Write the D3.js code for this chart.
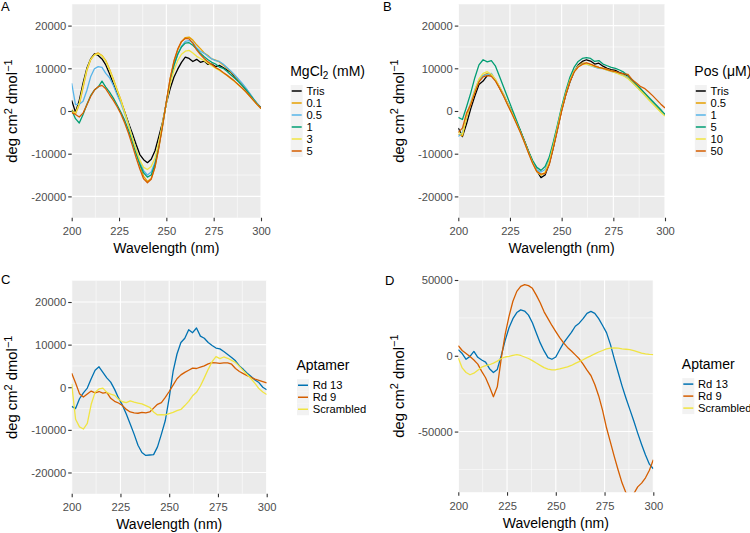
<!DOCTYPE html>
<html><head><meta charset="utf-8">
<script src="https://cdn.jsdelivr.net/npm/d3@7"></script>
<style>
body{margin:0;background:#fff}
svg{display:block}
text{font-family:"Liberation Sans",Arial,Helvetica,sans-serif}
</style>
</head><body>
<svg id="chart" width="750" height="533"></svg>
<script>
// ---------------- DATA ----------------
const wavelength = [200,202,204,206,208,210,212,214,216,218,220,222,224,226,228,230,232,234,236,238,240,242,244,246,248,250,252,254,256,258,260,262,264,266,268,270,272,274,276,278,280,282,284,286,288,290,292,294,296,298,300];
const xTicks = [200,225,250,275,300];
const xMinorTicks = [212.5,237.5,262.5,287.5];
const yTicksSmall = [-20000,-10000,0,10000,20000];
const yMinorSmall = [-15000,-5000,5000,15000];
const yTicksLarge = [-50000,0,50000];
const yMinorLarge = [-75000,-25000,25000];

// Panel A: MgCl2 (mM)
const mgLabels = ["Tris","0.1","0.5","1","3","5"];
const mgTris = [2500,-300,2500,6500,10000,12200,13400,13000,12200,10800,8700,6400,4200,2200,-200,-2800,-5200,-7800,-10200,-11400,-12100,-11300,-9300,-6000,-2600,1800,5200,7900,9800,11400,12600,12300,11600,12100,11400,11700,10900,11000,10400,10700,10200,9600,9100,8000,7100,6100,5000,3800,2700,1700,800];
const mg01 = [300,-700,1500,5500,9500,12000,13200,13600,13000,11800,9800,7500,5000,2600,-200,-3200,-6300,-9500,-12600,-15300,-16500,-15800,-13000,-8500,-3500,2000,7500,11500,14300,16200,17200,17300,16600,15500,14600,13600,13000,12200,11900,11500,10800,10000,9200,8300,7300,6200,5200,4000,2800,1600,600];
const mg05 = [6500,1500,1600,2300,4800,8000,9900,10400,10200,8800,7800,6000,3800,1800,-700,-3200,-6000,-9000,-11800,-14000,-15000,-14300,-12000,-8000,-3000,2000,6800,10500,13200,15200,16300,16500,16000,14800,14000,13500,12800,12200,11800,11600,11000,10200,9400,8500,7500,6500,5400,4200,2900,1700,600];
const mg1 = [200,-1800,-2800,-800,1500,3600,4900,5600,7000,5600,4400,3000,1400,-300,-2200,-4500,-7200,-10000,-12500,-14500,-15500,-15000,-12500,-8200,-3200,2000,6900,10700,13300,15000,15900,16000,15400,14500,13500,12700,12000,11400,11000,10300,10000,9300,8500,7700,6900,6000,5000,3900,2800,1600,600];
const mg3 = [-200,-500,1800,5800,9700,12100,13100,13400,12900,11600,9600,7300,4800,2400,-400,-3300,-6200,-9000,-11500,-13200,-13700,-13000,-11000,-7300,-2800,1800,6300,9500,11800,13300,14000,14200,13600,12800,12300,11800,11200,10600,10000,9500,8900,8300,7600,6900,6100,5300,4500,3500,2500,1500,600];
const mg5 = [-400,-800,-1400,-500,1400,3400,4900,5700,6000,5200,3800,2500,1000,-700,-2800,-5200,-8000,-10900,-13600,-15900,-16800,-16000,-13200,-8700,-3500,2200,7600,11700,14500,16300,17000,16900,15900,14300,13200,12300,11500,10900,10200,9700,9000,8400,7700,7000,6200,5400,4500,3500,2500,1500,600];

// Panel B: Pos (µM)
const posLabels = ["Tris","0.5","1","5","10","50"];
const posTris = [-4000,-6000,-3000,500,3500,6200,7000,8300,8600,7200,5400,3600,1500,-200,-2500,-4600,-7000,-9500,-12000,-14000,-15600,-15000,-12300,-8500,-4200,200,3800,6800,9200,10800,11600,12000,11700,11000,11200,10500,10000,9700,9500,9000,8700,8300,7200,6100,5300,4200,3000,2000,1000,0,-900];
const pos05 = [-5500,-5800,-1500,1500,4500,7000,8300,8800,8300,7300,5600,3800,1700,-300,-2500,-4700,-7100,-9600,-12000,-14000,-15000,-14500,-12000,-8300,-4000,300,4000,7000,9300,10600,11200,11200,10800,10600,10200,10000,9800,9400,9200,8800,8400,7800,6900,6000,5000,4000,3000,1900,900,-100,-1000];
const pos1 = [-6000,-5000,-1000,2000,5000,7300,8300,8500,8800,7200,5500,3700,1600,-400,-2600,-4800,-7200,-9700,-12000,-13800,-14300,-13700,-11500,-7800,-3600,700,4300,7300,9400,10500,11000,11000,10600,10300,10000,9900,9600,9300,9000,8700,8300,7700,6800,5800,4800,3800,2800,1800,800,-200,-1000];
const pos5 = [-1500,-2000,1000,4200,7800,10800,12000,11500,11800,10500,8000,5500,3000,500,-2000,-4500,-7000,-9500,-11600,-13200,-13900,-13000,-10800,-7200,-3200,1000,4700,7900,10200,11600,12300,12500,12300,11600,11800,11000,10600,10200,10000,9600,9100,8300,7400,6300,5300,4300,3300,2300,1300,300,-800];
const pos10 = [-5000,-5500,-1200,1800,4800,7500,8800,9200,8600,7400,5500,3600,1500,-500,-2700,-4900,-7300,-9800,-12200,-14200,-15000,-14300,-11800,-8000,-3800,500,4100,7200,9300,10400,10900,11000,10700,10400,10100,9900,9600,9300,9000,8600,8200,7600,6700,5800,4800,3800,2700,1700,700,-300,-1200];
const pos50 = [-5000,-4000,-500,1500,4300,6800,8000,8300,8100,7000,5300,3400,1300,-700,-2800,-5000,-7400,-9900,-12300,-14200,-14800,-14600,-12600,-8600,-4300,0,3800,6900,9100,10300,10900,11300,11000,10500,10200,10000,9700,9400,9200,8900,8700,8600,7400,6600,5800,5300,4500,3600,2600,1600,700];

// Panels C and D: Aptamer
const aptLabels = ["Rd 13","Rd 9","Scrambled"];
const cRd13 = [-4500,-5000,-2700,-1300,-200,2000,4000,4800,3500,2200,1200,-500,-2500,-4200,-6300,-8600,-11000,-13600,-15300,-16000,-15900,-15800,-14000,-11000,-7800,-2500,3700,7800,10500,11500,13500,12800,13900,12000,11500,10500,9800,9200,9000,8400,7700,7000,6200,5000,4200,3300,2500,1700,1100,0,-600];
const cRd9 = [3300,1000,-1500,-2300,-1600,-900,-1300,-1000,-1400,-1200,-2600,-3300,-3700,-4300,-5200,-5800,-6000,-6100,-5900,-6000,-5800,-4900,-4000,-3600,-2400,-1000,500,2000,2900,3500,4000,4500,4400,4700,5000,5500,5800,5700,5600,5700,5700,5400,4400,3700,3200,2700,2300,1900,1600,1300,1000];
const cScr = [800,-7500,-9300,-9800,-8500,-4000,-1200,-400,-200,-1200,-1600,-1900,-2800,-3400,-3600,-3200,-3500,-3700,-3900,-4300,-4700,-5800,-6500,-6400,-6500,-6200,-5900,-5500,-5200,-4300,-3300,-2000,-1200,300,2200,4200,6000,7200,6700,7100,6800,6300,5800,4900,3900,3000,2000,900,-300,-1100,-1700];
const dRd13 = [4000,1500,-2300,-400,2900,-1000,-2800,-4200,-8500,-11000,-9000,0,10000,18500,24500,28500,30300,29500,26800,21800,15000,8500,3200,-1200,-2300,-800,4000,8500,12000,15500,19500,21500,24500,28000,29300,28000,24500,20000,15300,7500,-2000,-11000,-20000,-28000,-35500,-43000,-51000,-58500,-65500,-71500,-74500];
const dRd9 = [6600,3500,1500,-500,-2800,-5500,-10300,-14500,-20500,-27000,-20500,-2000,14000,26000,36000,42500,45800,46900,46300,44500,40000,35000,29000,24500,20000,16000,12000,8500,5500,3200,600,-2000,-5500,-9500,-13000,-19000,-26500,-36000,-47500,-57000,-66500,-75500,-84000,-90500,-91500,-91000,-86500,-84000,-80500,-75500,-68600];
const dScr = [-1500,-8000,-11000,-12500,-11500,-9500,-7500,-6500,-5900,-4800,-3500,-1800,-800,-400,300,700,200,-800,-1800,-3200,-4800,-6300,-7800,-8800,-9300,-9200,-8700,-8000,-7300,-6400,-5000,-3800,-2600,-1200,0,1300,2500,3500,4600,5100,5200,5000,4600,4300,4000,3400,2600,1800,1300,900,700];

const okabe6 = ["#000000","#E69F00","#56B4E9","#009E73","#F0E442","#D55E00"];
const aptColors = ["#0072B2","#D55E00","#F0E442"];

// ---------------- DRAWING ----------------
const svg = d3.select("#chart");
const TICK_FONT = 11.2, TITLE_FONT = 14;

function yTitle(g, x, y) {
  const t = g.append("text").attr("transform", `translate(${x},${y}) rotate(-90)`)
    .attr("text-anchor", "middle").attr("font-size", 14.8).attr("fill", "#000");
  t.append("tspan").text("deg cm");
  t.append("tspan").attr("dy", -5.5).attr("font-size", 11).text("2");
  t.append("tspan").attr("dy", 5.5).text(" dmol");
  t.append("tspan").attr("dy", -5.5).attr("font-size", 11).text("\u22121");
}

function drawPanel(p) {
  const g = svg.append("g");
  const x = d3.scaleLinear().domain([200, 300]).range([p.left, p.right]);
  const y = d3.scaleLinear().domain(p.yDomain).range([p.bottom, p.top]);
  g.append("rect").attr("x", p.left).attr("y", p.top)
    .attr("width", p.right - p.left).attr("height", p.bottom - p.top).attr("fill", "#EBEBEB");
  const grid = g.append("g").attr("stroke", "#fff");
  p.yMinor.forEach(v => grid.append("line").attr("x1", p.left).attr("x2", p.right)
    .attr("y1", y(v)).attr("y2", y(v)).attr("stroke-width", 0.55));
  xMinorTicks.forEach(v => grid.append("line").attr("y1", p.top).attr("y2", p.bottom)
    .attr("x1", x(v)).attr("x2", x(v)).attr("stroke-width", 0.55));
  p.yTicks.forEach(v => grid.append("line").attr("x1", p.left).attr("x2", p.right)
    .attr("y1", y(v)).attr("y2", y(v)).attr("stroke-width", 1.1));
  xTicks.forEach(v => grid.append("line").attr("y1", p.top).attr("y2", p.bottom)
    .attr("x1", x(v)).attr("x2", x(v)).attr("stroke-width", 1.1));

  const cid = "clip" + p.label;
  svg.append("clipPath").attr("id", cid).append("rect")
    .attr("x", p.left).attr("y", p.top).attr("width", p.right - p.left).attr("height", p.bottom - p.top);
  const line = d3.line().x((d, i) => x(wavelength[i])).y(d => y(d));
  const lg = g.append("g").attr("clip-path", `url(#${cid})`);
  p.series.forEach((s, i) => lg.append("path").attr("d", line(s))
    .attr("fill", "none").attr("stroke", p.colors[i]).attr("stroke-width", 1.3)
    .attr("stroke-linejoin", "round"));

  // axes
  const xa = g.append("g").attr("transform", `translate(0,${p.bottom})`)
    .call(d3.axisBottom(x).tickValues(xTicks).tickSize(3.5).tickFormat(d => String(d)));
  xa.select(".domain").remove();
  xa.selectAll(".tick line").attr("stroke", "#333333").attr("stroke-width", 1.1);
  xa.selectAll(".tick text").attr("y", 13.5).attr("dy", "0.35em")
    .attr("font-size", TICK_FONT).attr("fill", "#4D4D4D");
  const ya = g.append("g").attr("transform", `translate(${p.left},0)`)
    .call(d3.axisLeft(y).tickValues(p.yTicks).tickSize(3.5).tickFormat(d => String(d)));
  ya.select(".domain").remove();
  ya.selectAll(".tick line").attr("stroke", "#333333").attr("stroke-width", 1.1);
  ya.selectAll(".tick text").attr("x", -5.5).attr("dy", "0.35em")
    .attr("font-size", TICK_FONT).attr("fill", "#4D4D4D");
  xa.attr("font-family", null); ya.attr("font-family", null);

  g.append("text").attr("x", (p.left + p.right) / 2).attr("y", p.bottom + 30.5).attr("dy", "0.35em")
    .attr("text-anchor", "middle").attr("font-size", TITLE_FONT).text("Wavelength (nm)");
  yTitle(g, p.left - 54.5, (p.top + p.bottom) / 2);

  g.append("text").attr("x", p.labelX).attr("y", p.labelY).attr("font-size", 13).text(p.label);

  // legend
  const lc = p.legendX, cy = (p.top + p.bottom) / 2;
  const n = p.legendLabels.length;
  const itemH = 12;
  const firstY = cy - ((n - 1) * itemH) / 2 + 10;
  const titleY = firstY - 20;
  const tt = g.append("text").attr("x", lc - 6.5).attr("y", titleY).attr("dy", "0.35em")
    .attr("font-size", TITLE_FONT);
  p.legendTitle(tt);
  p.legendLabels.forEach((lab, i) => {
    const yy = firstY + i * itemH;
    g.append("rect").attr("x", lc - 6).attr("y", yy - 6).attr("width", 12).attr("height", 12)
      .attr("fill", "#F2F2F2");
    g.append("line").attr("x1", lc - 5).attr("x2", lc + 5).attr("y1", yy).attr("y2", yy)
      .attr("stroke", p.colors[i]).attr("stroke-width", 1.5);
    g.append("text").attr("x", lc + 9.7).attr("y", yy).attr("dy", "0.35em")
      .attr("font-size", TICK_FONT).attr("fill", "#000").text(lab);
  });
}

const aptTitle = t => t.text("Aptamer");

drawPanel({label: "A", labelX: 1, labelY: 10.5, left: 71.7, right: 261, top: 4.25, bottom: 217.75,
  yDomain: [-25000, 25000], yTicks: yTicksSmall, yMinor: yMinorSmall,
  series: [mgTris, mg01, mg05, mg1, mg3, mg5], colors: okabe6, legendLabels: mgLabels, legendX: 296.7,
  legendTitle: t => { t.append("tspan").text("MgCl"); t.append("tspan").attr("dy", 3).attr("font-size", 10).text("2");
    t.append("tspan").attr("dy", -3).text(" (mM)"); }});

drawPanel({label: "B", labelX: 383, labelY: 10.5, left: 458.3, right: 665, top: 4.25, bottom: 217.75,
  yDomain: [-25000, 25000], yTicks: yTicksSmall, yMinor: yMinorSmall,
  series: [posTris, pos05, pos1, pos5, pos10, pos50], colors: okabe6, legendLabels: posLabels, legendX: 700.8,
  legendTitle: t => t.text("Pos (\u03BCM)")});

drawPanel({label: "C", labelX: 1, labelY: 284, left: 71.7, right: 266.7, top: 280.7, bottom: 493.8,
  yDomain: [-25000, 25000], yTicks: yTicksSmall, yMinor: yMinorSmall,
  series: [cRd13, cRd9, cScr], colors: aptColors, legendLabels: aptLabels, legendX: 303,
  legendTitle: aptTitle});

drawPanel({label: "D", labelX: 385, labelY: 285, left: 458.3, right: 653.3, top: 280, bottom: 492.2,
  yDomain: [-90000, 50000], yTicks: yTicksLarge, yMinor: yMinorLarge,
  series: [dRd13, dRd9, dScr], colors: aptColors, legendLabels: aptLabels, legendX: 688.3,
  legendTitle: aptTitle});
</script>
</body></html>
